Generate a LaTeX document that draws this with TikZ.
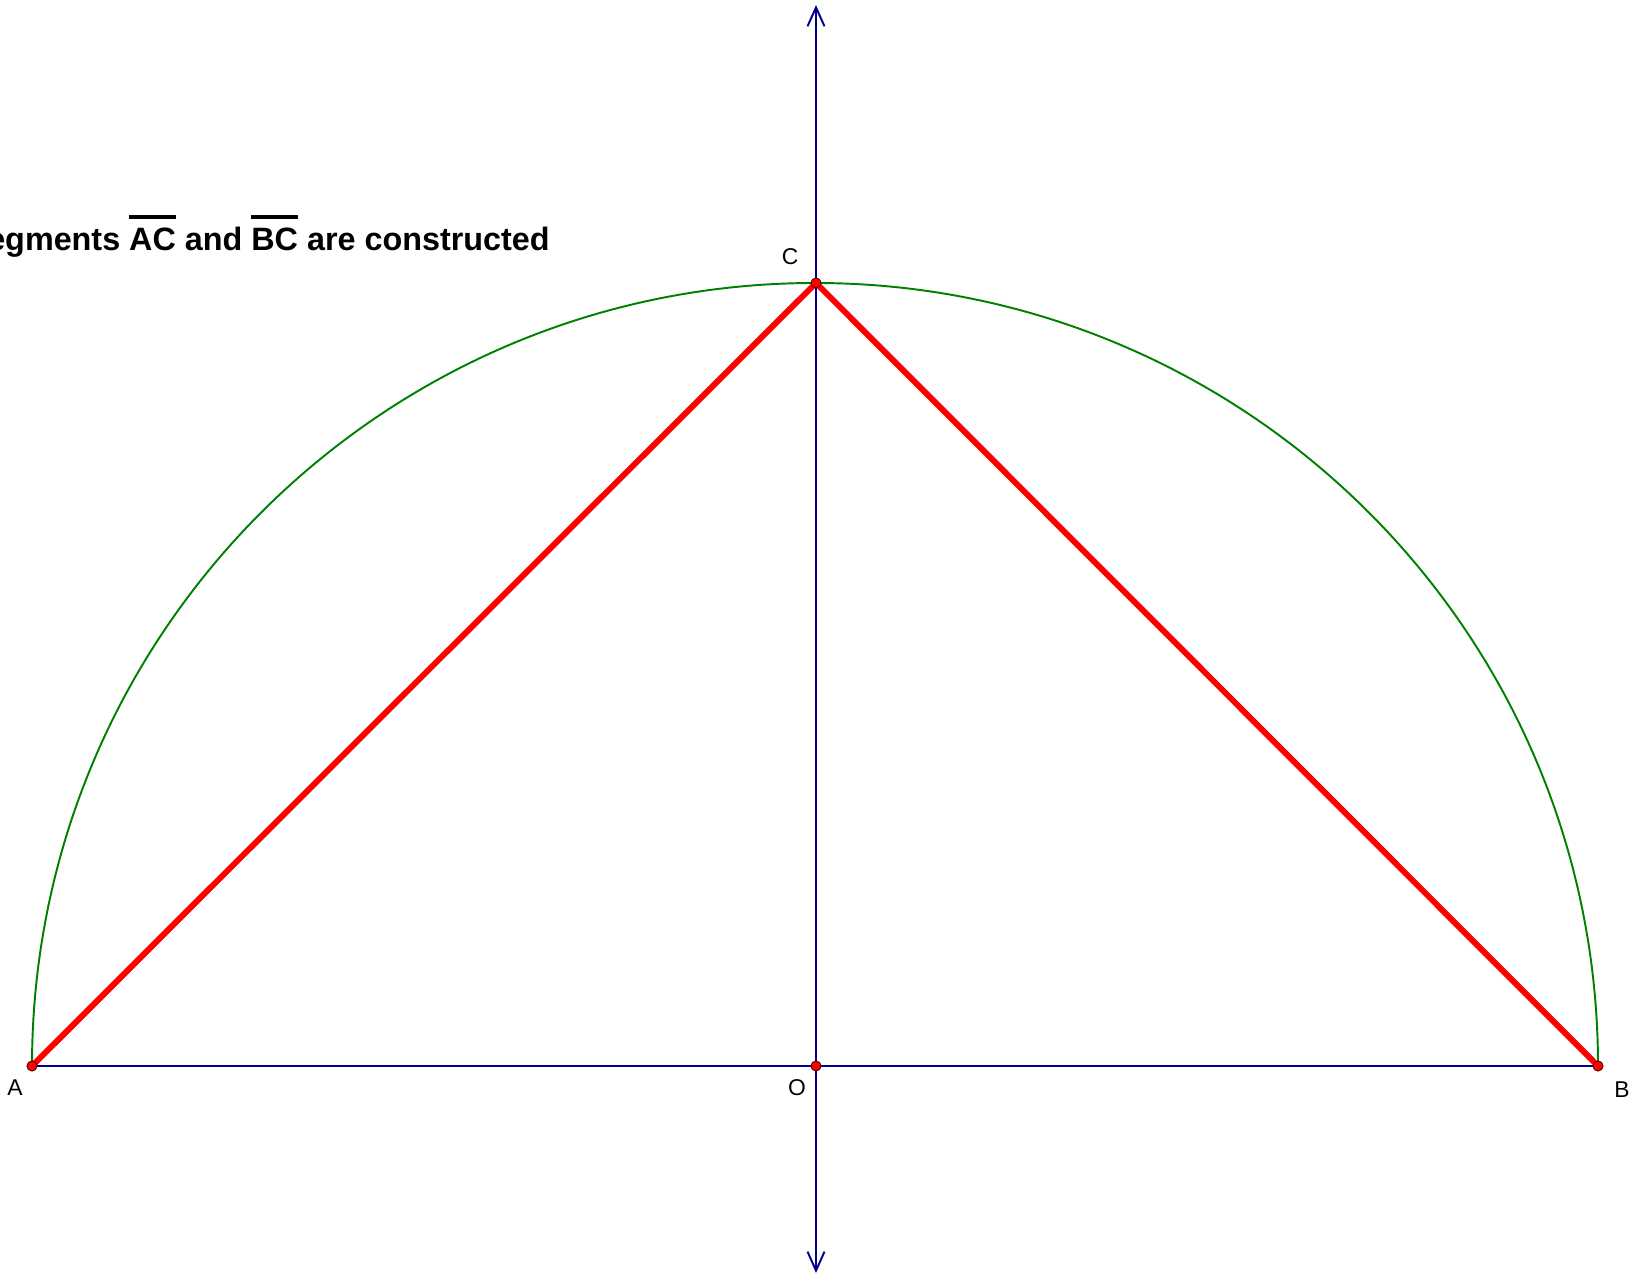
\documentclass[tikz,border=0pt]{standalone}
\usepackage{fontspec}
\setmainfont{Liberation Sans}
\usetikzlibrary{arrows.meta}
\definecolor{axisblue}{RGB}{0,0,139}
\definecolor{arcgreen}{RGB}{0,128,0}
\definecolor{segred}{RGB}{255,0,0}
\newcommand{\segname}[1]{\leavevmode\setbox0\hbox{#1}\rlap{\raisebox{\dimexpr\ht0+5.5pt\relax}{\rule{\wd0}{2.2pt}}}\box0\relax}
\begin{document}
\begin{tikzpicture}[
    axis/.style={draw=axisblue, line width=1.1pt},
    arc/.style={draw=arcgreen, line width=1.1pt},
    segment/.style={draw=segred, line width=3.4pt, line cap=round},
    dot/.style={circle, fill=segred, draw=black!70!red, line width=0.4pt, inner sep=0pt, minimum size=0.2cm},
    ptlabel/.style={font=\fontsize{13}{15}\selectfont},
    caption/.style={font=\fontsize{18.4}{21}\selectfont\bfseries, anchor=base east, inner sep=0pt}
]
\clip (0,0) rectangle (32.78,25.54);
\useasboundingbox (0,0) rectangle (32.78,25.54);

% endpoints of the diameter and the top of the arc
\coordinate (top) at (16.32,25.44);
\coordinate (bottom) at (16.32,0.08);

\node[dot] (A) at (0.64,4.22) {};
\node[dot] (O) at (16.32,4.22) {};
\node[dot] (B) at (31.96,4.22) {};
\node[dot] (C) at (16.32,19.88) {};

\draw[arc] (B.center) arc[start angle=0, end angle=180, radius=15.66];
\draw[axis] (A.center) -- (B.center);
\draw[axis, {Straight Barb[length=0.38cm, width=0.34cm]}-{Straight Barb[length=0.38cm, width=0.34cm]}] (bottom) -- (top);

\draw[segment] (A.center) -- (C.center);
\draw[segment] (B.center) -- (C.center);

\node[dot] at (A) {};
\node[dot] at (O) {};
\node[dot] at (B) {};
\node[dot] at (C) {};

\node[ptlabel] (lA) at (0.30,3.78) {A};
\node[ptlabel] (lO) at (15.94,3.78) {O};
\node[ptlabel] (lB) at (32.44,3.74) {B};
\node[ptlabel] (lC) at (15.80,20.40) {C};

\node[caption] (title) at (11.0,20.52) {Segments \segname{AC} and \segname{BC} are constructed};
\end{tikzpicture}
\end{document}
